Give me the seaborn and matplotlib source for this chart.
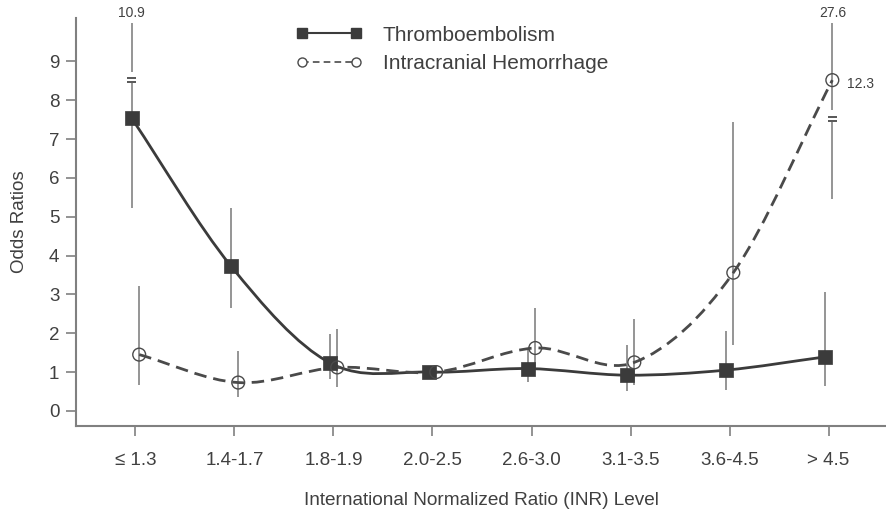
import numpy as np
import pandas as pd
import matplotlib
matplotlib.use("Agg")
import matplotlib.pyplot as plt
from matplotlib.path import Path
from matplotlib.patches import PathPatch
from matplotlib.lines import Line2D
import seaborn as sns

categories = ["≤ 1.3", "1.4-1.7", "1.8-1.9", "2.0-2.5", "2.6-3.0", "3.1-3.5", "3.6-4.5", "> 4.5"]

# plotted on the axis scale (values above the break are drawn at the top)
te_or = [7.54, 3.74, 1.24, 1.00, 1.09, 0.92, 1.05, 1.39]
te_lo = [5.22, 2.66, 0.81, np.nan, 0.75, 0.52, 0.53, 0.64]
te_hi = [10.0, 5.22, 1.98, np.nan, 1.56, 1.69, 2.05, 3.07]

ich_or = [1.45, 0.73, 1.12, 1.00, 1.62, 1.25, 3.56, 8.52]
ich_lo = [0.66, 0.36, 0.62, np.nan, 1.05, 0.66, 1.69, 5.45]
ich_hi = [3.21, 1.55, 2.10, np.nan, 2.64, 2.36, 7.45, 9.98]

# broken error bars: (series, index, gap start, gap end)
breaks = [("te", 0, 8.45, 8.74), ("ich", 7, 7.44, 7.75)]
# off-scale values written as text
notes = [("te", 0, "hi", "10.9"), ("ich", 7, "hi", "27.6"), ("ich", 7, "or", "12.3")]

DARK = "#3b3b3b"
MID = "#4a4a4a"
BAR = "#8c8c8c"
AXC = "#808080"
TXT = "#404040"


def smooth_path(x, y):
    x = np.asarray(x, float)
    y = np.asarray(y, float)
    n = len(x)
    m = np.empty(n)
    m[1:-1] = (y[2:] - y[:-2]) / (x[2:] - x[:-2])
    m[0] = (y[1] - y[0]) / (x[1] - x[0])
    m[-1] = (y[-1] - y[-2]) / (x[-1] - x[-2])
    verts = [(x[0], y[0])]
    codes = [Path.MOVETO]
    for i in range(n - 1):
        d = (x[i + 1] - x[i]) / 3
        verts += [(x[i] + d, y[i] + m[i] * d),
                  (x[i + 1] - d, y[i + 1] - m[i + 1] * d),
                  (x[i + 1], y[i + 1])]
        codes += [Path.CURVE4] * 3
    return Path(verts, codes)


sns.set_style("white")
plt.rcParams["font.family"] = ["Liberation Sans", "DejaVu Sans"]

pos = np.arange(len(categories))
df = pd.DataFrame({
    "x_te": pos - 0.038, "x_ich": pos + 0.038,
    "te_or": te_or, "te_lo": te_lo, "te_hi": te_hi,
    "ich_or": ich_or, "ich_lo": ich_lo, "ich_hi": ich_hi,
})

fig = plt.figure(figsize=(8.86, 5.09), dpi=100)
ax = fig.add_axes([0.0858, 0.163, 0.9142, 0.8016])

# error bars
for s in ("te", "ich"):
    for i, row in df.iterrows():
        lo, hi, x = row[f"{s}_lo"], row[f"{s}_hi"], row[f"x_{s}"]
        if np.isnan(lo):
            continue
        br = [b for b in breaks if b[0] == s and b[1] == i]
        if br:
            _, _, g0, g1 = br[0]
            ax.vlines(x, lo, g0, color=BAR, lw=1.3, zorder=1)
            ax.vlines(x, g1, hi, color=BAR, lw=1.3, zorder=1)
            ax.hlines([g0 + 0.03, g0 + 0.13], x - 0.045, x + 0.045, color=DARK, lw=1.2, zorder=1)
        else:
            ax.vlines(x, lo, hi, color=BAR, lw=1.3, zorder=1)

# smooth connecting curves
ax.add_patch(PathPatch(smooth_path(df["x_te"], df["te_or"]), fill=False,
                       edgecolor=DARK, lw=2.0, zorder=2))
ax.add_patch(PathPatch(smooth_path(df["x_ich"], df["ich_or"]), fill=False,
                       edgecolor=MID, lw=2.0, ls=(0, (4.5, 2.5)), zorder=2))

sns.scatterplot(data=df, x="x_te", y="te_or", marker="s", s=110, color=DARK,
                edgecolor=DARK, linewidth=0.5, ax=ax, zorder=4)
sns.scatterplot(data=df, x="x_ich", y="ich_or", marker="o", s=85, facecolor="none",
                edgecolor=MID, linewidth=1.0, ax=ax, zorder=5)

for s, i, key, label in notes:
    x = df.loc[i, f"x_{s}"]
    y = df.loc[i, f"{s}_{key}"]
    if key == "hi":
        ax.text(x, y + 0.08, label, ha="center", va="bottom", fontsize=10, color=TXT)
    else:
        ax.text(x + 0.15, y - 0.1, label, ha="left", va="center", fontsize=10, color=TXT)

ax.set_xlim(-0.6, 7.58)
ax.set_ylim(-0.39, 10.12)
ax.set_xticks(pos)
ax.set_xticklabels(categories)
ax.set_yticks(range(10))
ax.set_xlabel("International Normalized Ratio (INR) Level", fontsize=13.7, color=TXT, labelpad=16)
ax.set_ylabel("Odds Ratios", fontsize=13.5, color=TXT, labelpad=15)
ax.tick_params(axis="both", direction="out", length=7, width=1.2, color=AXC,
               labelsize=13.5, labelcolor=TXT, bottom=True, left=True)
ax.tick_params(axis="x", pad=12)
ax.tick_params(axis="y", pad=5)
for side in ("top", "right"):
    ax.spines[side].set_visible(False)
for side in ("left", "bottom"):
    ax.spines[side].set_color(AXC)
    ax.spines[side].set_linewidth(1.5)

handles = [
    Line2D([], [], color=DARK, lw=1.5, marker="s", markersize=7, markerfacecolor=DARK),
    Line2D([], [], color=MID, lw=1.2, ls=(0, (4, 2.5)), marker="o", markersize=6.5,
           markerfacecolor="white", markeredgecolor=MID),
]
ax.legend(handles, ["Thromboembolism", "Intracranial Hemorrhage"], loc="upper left",
          bbox_to_anchor=(0.3224, 0.97), bbox_transform=fig.transFigure, frameon=False,
          fontsize=15, numpoints=2, handlelength=3.2, handletextpad=0.96,
          labelspacing=0.45, borderpad=0, labelcolor=TXT)

fig.savefig("out.png", dpi=100)
